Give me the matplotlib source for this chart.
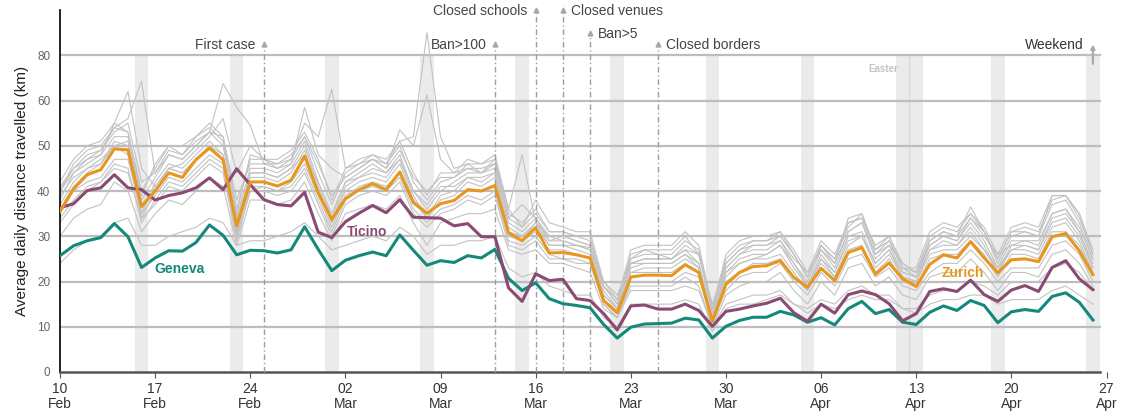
import matplotlib
matplotlib.use("Agg")
import matplotlib.pyplot as plt
import numpy as np

plt.rcParams["font.family"] = ["Liberation Sans", "DejaVu Sans"]

# one value per day, Mon 10 Feb 2020 .. Sun 26 Apr 2020 (rows = weeks)
zurich = [
    35.5, 40.5, 43.6, 44.7, 49.3, 49.1, 36.5,
    40.0, 44.0, 43.0, 46.9, 49.5, 46.9, 32.3,
    42.0, 42.0, 41.1, 42.4, 47.7, 39.6, 33.7,
    38.3, 40.3, 41.6, 40.3, 44.2, 37.4, 35.1,
    37.2, 37.9, 40.3, 40.0, 41.2, 30.8, 29.0,
    31.9, 26.3, 26.4, 25.9, 25.2, 15.8, 13.1,
    21.0, 21.4, 21.4, 21.3, 23.7, 22.0, 11.2,
    19.4, 22.0, 23.3, 23.5, 24.6, 20.9, 18.7,
    22.9, 20.2, 26.4, 27.5, 21.6, 24.1, 20.6,
    18.9, 23.8, 25.9, 25.2, 28.8, 25.2, 21.9,
    24.8, 25.0, 24.4, 29.9, 30.6, 26.8, 21.5,
]
ticino = [
    36.3, 37.2, 40.1, 40.7, 43.6, 40.7, 40.3,
    38.0, 39.0, 39.6, 40.7, 42.9, 40.3, 44.9,
    41.4, 38.1, 37.0, 36.7, 39.7, 30.9, 29.7,
    33.2, 35.1, 36.8, 35.2, 38.1, 34.2, 34.1,
    34.0, 32.3, 32.8, 29.9, 29.9, 18.6, 15.6,
    21.7, 20.2, 20.5, 16.2, 15.8, 12.9, 9.3,
    14.6, 14.8, 13.9, 13.9, 15.0, 13.6, 10.1,
    13.4, 13.9, 14.6, 15.2, 16.3, 13.1, 11.2,
    15.0, 13.0, 17.1, 17.9, 17.1, 15.1, 11.3,
    12.9, 17.8, 18.4, 17.8, 20.3, 17.1, 15.6,
    18.1, 19.1, 17.8, 23.1, 24.6, 20.6, 18.2,
]
geneva = [
    25.7, 27.9, 29.0, 29.7, 32.8, 29.9, 23.1,
    25.2, 26.8, 26.7, 28.6, 32.5, 30.2, 25.9,
    26.9, 26.8, 26.3, 27.0, 32.1, 27.1, 22.4,
    24.7, 25.7, 26.5, 25.7, 30.3, 26.9, 23.6,
    24.6, 24.2, 25.7, 25.2, 27.1, 20.7, 18.0,
    19.7, 16.2, 15.1, 14.7, 14.2, 10.5, 7.5,
    9.9, 10.6, 10.7, 10.8, 11.9, 11.5, 7.5,
    10.1, 11.4, 12.1, 12.1, 13.4, 12.6, 11.0,
    12.0, 10.4, 14.0, 15.6, 12.9, 13.8, 11.0,
    10.5, 13.2, 14.6, 13.6, 15.8, 14.7, 10.9,
    13.3, 13.8, 13.4, 16.7, 17.5, 15.4, 11.5,
]

# other cantons (grey)
grey_01 = [
    41, 45, 47, 49, 54, 56, 68.5,
    44, 48, 47, 50, 53, 67.5, 58.5,
    54.5, 46, 46, 47, 55, 52, 65,
    45, 46, 47, 46, 51, 52, 90,
    52, 45, 46, 44, 47, 36, 48,
    33, 30, 29, 28, 27.5, 20, 17,
    24, 25, 25, 25, 27, 26, 14,
    23, 26, 27, 27, 29, 25, 22,
    27, 24, 31, 33, 26, 28, 24,
    22, 28, 30, 29, 34, 30, 26,
    28, 29, 28, 35, 36, 32, 25,
]
grey_02 = [
    40, 44, 46, 48, 55, 64, 45,
    41, 45, 46, 49, 52, 56, 44,
    50, 47, 45, 46, 58.5, 48, 45,
    43, 45, 47, 45, 53.5, 50, 62.4,
    47, 44, 45, 44, 46, 34, 37,
    34, 29, 30, 29, 28, 19, 16,
    25, 26, 26, 25, 28, 26, 15,
    24, 27, 28, 28, 30, 26, 21,
    28, 25, 32, 35, 27, 29, 23,
    21, 29, 31, 30, 36.5, 31, 24,
    30, 31, 30, 39, 39, 35, 26,
]
grey_03 = [
    40, 46, 49, 50, 54, 53, 40,
    45, 50, 48, 52, 55, 52, 36,
    47, 47, 46, 48, 52, 44, 37,
    44, 46, 48, 46, 50, 42, 38,
    42, 43, 46, 46, 47, 35, 33,
    36, 31, 31, 30, 30, 19, 15,
    25, 27, 27, 27, 30, 26, 13,
    24, 27, 29, 29, 31, 26, 21,
    28, 24, 34, 35, 27, 30, 24,
    22, 30, 32, 31, 35, 31, 25,
    31, 32, 31, 38, 39, 34, 26,
]
grey_04 = [
    38, 44, 47, 48, 52, 52, 38,
    43, 48, 47, 50, 53, 50, 34,
    45, 45, 44, 46, 51, 42, 35,
    42, 44, 46, 44, 48, 40, 36,
    40, 42, 44, 44, 45, 33, 31,
    34, 30, 30, 29, 28, 18, 14,
    24, 25, 25, 25, 27, 24, 12,
    23, 26, 28, 28, 29, 24, 20,
    27, 23, 31, 33, 25, 28, 22,
    21, 28, 30, 29, 33, 29, 23,
    29, 29, 29, 35, 36, 31, 24,
]
grey_05 = [
    37, 42, 45, 46, 51, 50, 35,
    42, 46, 45, 48, 51, 48, 30,
    44, 44, 43, 45, 50, 41, 33,
    41, 43, 44, 43, 47, 39, 34,
    39, 40, 43, 42, 44, 32, 30,
    33, 29, 29, 28, 27, 17, 14,
    23, 24, 24, 24, 26, 23, 12,
    22, 25, 26, 26, 28, 23, 19,
    26, 22, 30, 31, 24, 27, 21,
    20, 27, 29, 28, 32, 28, 22,
    28, 28, 27, 33, 34, 30, 23,
]
grey_06 = [
    36, 41, 44, 46, 50, 51, 37,
    41, 45, 44, 47, 50, 47, 31,
    43, 43, 42, 44, 49, 40, 33,
    40, 42, 43, 42, 46, 38, 34,
    38, 39, 42, 41, 43, 31, 29,
    33, 28, 28, 27, 26, 16, 13,
    22, 23, 23, 23, 25, 23, 12,
    21, 24, 25, 25, 26, 22, 18,
    25, 21, 28, 30, 23, 26, 21,
    20, 26, 27, 27, 30, 27, 22,
    27, 27, 26, 32, 33, 29, 22,
]
grey_07 = [
    39, 43, 45, 47, 50, 48, 34,
    40, 45, 44, 47, 50, 48, 33,
    44, 44, 43, 45, 48, 42, 34,
    42, 43, 45, 44, 47, 40, 37,
    41, 41, 43, 43, 44, 31, 30,
    32, 28, 28, 28, 27, 17, 14,
    24, 24, 24, 24, 26, 24, 12,
    22, 24, 25, 26, 28, 24, 19,
    25, 22, 29, 30, 24, 27, 22,
    21, 27, 28, 28, 31, 27, 23,
    27, 28, 27, 34, 35, 31, 23,
]
grey_08 = [
    42, 47, 50, 51, 55, 53, 39,
    46, 50, 50, 52, 54, 51, 35,
    48, 47, 47, 49, 53, 47, 38,
    45, 47, 48, 47, 51, 44, 39,
    44, 44, 47, 46, 48, 36, 32,
    38, 33, 32, 31, 31, 20, 16,
    27, 28, 28, 28, 31, 28, 14,
    26, 29, 30, 30, 31, 27, 22,
    29, 26, 33, 34, 28, 30, 23,
    23, 31, 33, 32, 35, 32, 26,
    32, 33, 32, 39, 39, 35, 27,
]
grey_09 = [
    33, 37, 40, 42, 45, 44, 34,
    37, 41, 40, 43, 46, 44, 29,
    40, 40, 39, 40, 44, 37, 30,
    37, 39, 40, 39, 42, 35, 32,
    35, 36, 38, 37, 39, 28, 27,
    29, 25, 25, 24, 24, 15, 12,
    20, 20, 20, 20, 22, 21, 11,
    18, 21, 22, 22, 24, 20, 17,
    22, 19, 25, 26, 21, 23, 19,
    18, 22, 24, 24, 27, 24, 20,
    23, 23, 23, 28, 29, 26, 20,
]
grey_10 = [
    30, 34, 36, 37, 42, 40, 31,
    35, 38, 37, 40, 43, 41, 28,
    38, 38, 37, 38, 42, 35, 29,
    35, 36, 37, 36, 39, 33, 28,
    33, 34, 35, 35, 36, 27, 26,
    27, 24, 24, 23, 22, 14, 12,
    19, 19, 19, 19, 21, 19, 10,
    17, 19, 20, 20, 22, 18, 15,
    20, 17, 23, 24, 19, 21, 17,
    16, 21, 22, 22, 25, 22, 18,
    22, 22, 21, 26, 27, 24, 19,
]
grey_11 = [
    24, 27, 29, 30, 33, 34, 28,
    28, 30, 31, 32, 34, 33, 28,
    29, 29, 30, 31, 33, 30, 27,
    28, 29, 30, 29, 32, 30, 26,
    28, 28, 29, 29, 30, 23, 21,
    22, 19, 18, 17, 17, 12, 10,
    15, 15, 15, 15, 16, 15, 9,
    14, 15, 15, 16, 17, 15, 13,
    15, 14, 16, 17, 16, 16, 14,
    13, 15, 16, 16, 17, 17, 15,
    16, 16, 16, 18, 19, 17, 15,
]
grey_12 = [
    35, 40, 42, 43, 47, 47, 35,
    39, 43, 42, 45, 48, 46, 31,
    41, 41, 40, 42, 46, 39, 32,
    39, 41, 42, 41, 44, 38, 35,
    37, 38, 40, 40, 41, 30, 29,
    31, 27, 27, 26, 25, 16, 13,
    22, 22, 22, 22, 24, 22, 11,
    20, 22, 24, 24, 25, 21, 18,
    24, 21, 27, 28, 22, 25, 20,
    19, 25, 26, 26, 29, 26, 21,
    26, 26, 25, 31, 31, 28, 22,
]
grey_13 = [
    40, 45, 48, 49, 53, 55, 42,
    44, 49, 48, 51, 53, 52, 38,
    46, 46, 45, 47, 52, 46, 39,
    43, 45, 47, 45, 49, 43, 40,
    43, 43, 45, 45, 46, 34, 32,
    35, 31, 31, 30, 29, 19, 15,
    26, 27, 26, 26, 29, 27, 14,
    25, 28, 29, 29, 30, 26, 21,
    28, 25, 33, 34, 26, 29, 23,
    22, 29, 31, 30, 34, 31, 25,
    31, 31, 30, 37, 38, 33, 25,
]
grey_14 = [
    34, 38, 41, 42, 46, 45, 33,
    38, 42, 41, 44, 47, 45, 30,
    40, 41, 40, 41, 45, 38, 31,
    38, 40, 41, 40, 43, 36, 33,
    36, 37, 39, 38, 40, 29, 28,
    30, 26, 25, 25, 24, 15, 12,
    18, 18, 18, 18, 19, 18, 10,
    15, 16, 17, 17, 18, 15, 14,
    16, 15, 18, 19, 17, 17, 14,
    14, 17, 18, 18, 20, 19, 17,
    20, 20, 20, 23, 24, 22, 18,
]
grey_series = [grey_01, grey_02, grey_03, grey_04, grey_05, grey_06, grey_07,
               grey_08, grey_09, grey_10, grey_11, grey_12, grey_13, grey_14]

tick_days = [0, 7, 14, 21, 28, 35, 42, 49, 56, 63, 70, 77]
tick_labels = ["10\nFeb", "17\nFeb", "24\nFeb", "02\nMar", "09\nMar", "16\nMar",
               "23\nMar", "30\nMar", "06\nApr", "13\nApr", "20\nApr", "27\nApr"]
sundays = [6, 13, 20, 27, 34, 41, 48, 55, 62, 69, 76]
easter_monday = 63

event_names = ["First case", "Ban>100", "Closed schools", "Closed venues", "Ban>5", "Closed borders"]
event_days = [15, 32, 35, 37, 39, 44]
event_tops = [85, 85, 100, 100, 90, 85]
event_sides = ["left", "left", "left", "right", "right", "right"]

ZURICH_C = "#e8961c"
TICINO_C = "#8a4a72"
GENEVA_C = "#14897a"
GREY_C = "#c2c2c2"


def fwd(v):
    v = np.asarray(v, dtype=float)
    return np.where(v <= 60, v, 60 + (v - 60) / 2)


def inv(u):
    u = np.asarray(u, dtype=float)
    return np.where(u <= 60, u, 60 + (u - 60) * 2)


fig = plt.figure(figsize=(11.22, 4.17), dpi=100)
ax = fig.add_axes([60 / 1122, 1 - 372 / 417, (1106.5 - 60) / 1122, 362 / 417])
ax.set_yscale("function", functions=(fwd, inv))
ax.set_xlim(0, 77)
ax.set_ylim(0, 100)

# weekend bands
for d in sundays:
    ax.fill_between([d - 0.5, d + 0.5], 0, 80, color="#ebebeb", lw=0, zorder=0)
ax.fill_between([easter_monday - 0.5, easter_monday + 0.5], 0, 80, color="#ebebeb", lw=0, zorder=0)
ax.plot([easter_monday - 0.5] * 2, [0, 80], color="#d6d6d6", lw=0.8, zorder=0.5)
ax.text(60.6, 74, "Easter", color="#c4c4c4", fontsize=7, fontweight="bold", ha="center", va="center")

# grid
for g in [10, 20, 30, 40, 50, 60, 80]:
    ax.plot([0, 76.5], [g, g], color="#bdbdbd", lw=1.6, zorder=1)

days = np.arange(len(zurich))
for s in grey_series:
    ax.plot(days, s, color=GREY_C, lw=0.8, zorder=2)

ax.plot(days, geneva, color=GENEVA_C, lw=2.2, zorder=4)
ax.plot(days, ticino, color=TICINO_C, lw=2.2, zorder=4)
ax.plot(days, zurich, color=ZURICH_C, lw=2.2, zorder=4)

ax.text(8.8, 22.8, "Geneva", color=GENEVA_C, fontsize=10, fontweight="bold", ha="center", va="center", zorder=5)
ax.text(22.6, 31.0, "Ticino", color=TICINO_C, fontsize=10, fontweight="bold", ha="center", va="center", zorder=5)
ax.text(66.4, 21.9, "Zurich", color=ZURICH_C, fontsize=10, fontweight="bold", ha="center", va="center", zorder=5)

# policy events
for name, d, top, side in zip(event_names, event_days, event_tops, event_sides):
    ax.plot([d, d], [0, top], color="#9e9e9e", lw=1, ls=(0, (4, 2, 1, 2)), zorder=3, clip_on=False)
    ax.plot([d], [top], marker="^", ms=3.5, color="#a8a8a8", zorder=3, clip_on=False)
    if side == "left":
        ax.text(d - 0.6, top - 0.6, name, ha="right", va="center", fontsize=10, color="#444444")
    else:
        ax.text(d + 0.6, top - 0.6, name, ha="left", va="center", fontsize=10, color="#444444")

# weekend marker
ax.annotate("", xy=(76, 86), xytext=(76, 75),
            arrowprops=dict(arrowstyle="-|>", color="#a8a8a8", lw=1.5, mutation_scale=6),
            annotation_clip=False)
ax.text(75.3, 84.4, "Weekend", ha="right", va="center", fontsize=10, color="#333333")

ax.set_xticks(tick_days)
ax.set_xticklabels(tick_labels, fontsize=10, color="#333333", linespacing=1.1)
ax.set_yticks([0, 10, 20, 30, 40, 50, 60, 80])
ax.set_yticklabels(["0", "10", "20", "30", "40", "50", "60", "80"], fontsize=8.5, color="#666666")
ax.yaxis.set_minor_locator(matplotlib.ticker.NullLocator())
ax.tick_params(axis="y", length=0, pad=7)
ax.tick_params(axis="x", length=4, color="#555555", pad=3)

ax.spines["top"].set_visible(False)
ax.spines["right"].set_visible(False)
ax.spines["left"].set_color("black")
ax.spines["left"].set_linewidth(1.2)
ax.spines["bottom"].set_color("#555555")
ax.spines["bottom"].set_linewidth(1.8)
ax.spines["bottom"].set_bounds(0, 76.5)
ax.set_ylabel("Average daily distance travelled (km)", fontsize=11, color="#222222", labelpad=6)

fig.savefig("out.png", dpi=100)
